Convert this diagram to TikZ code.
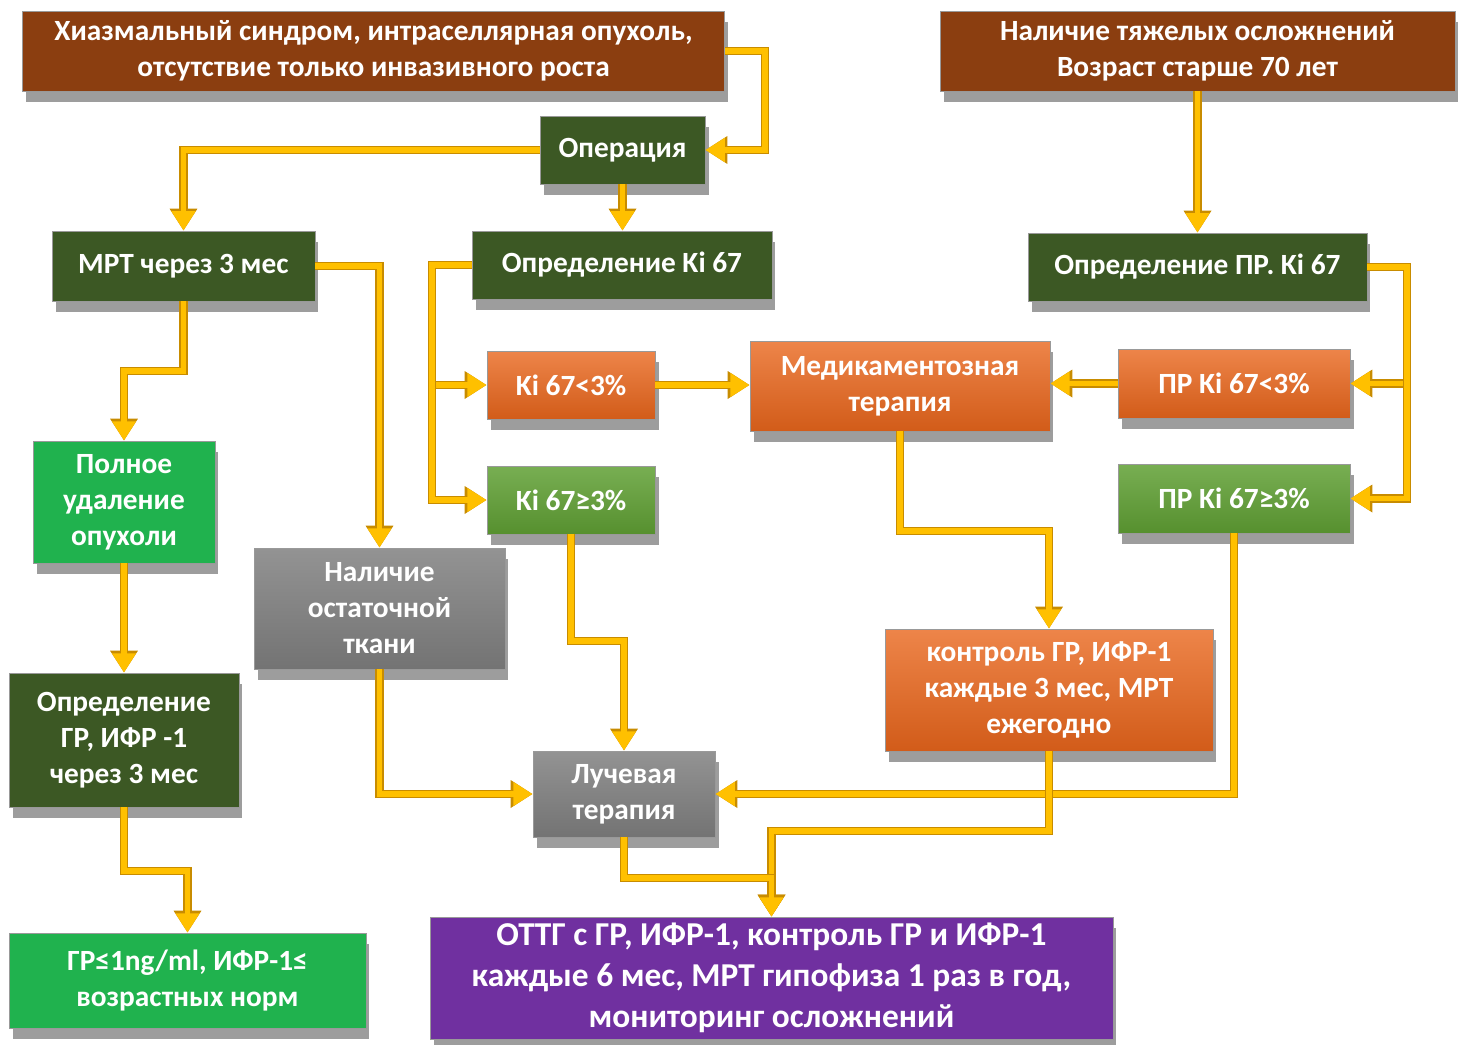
\documentclass[tikz,border=0pt]{standalone}
\usepackage{fontspec}
\setmainfont{Carlito}
\usetikzlibrary{positioning,arrows.meta,shadows}
\definecolor{brownbox}{RGB}{139,62,16}
\definecolor{darkgreen}{RGB}{60,88,36}
\definecolor{orangebox}{RGB}{233,102,28}
\definecolor{midgreen}{RGB}{96,160,52}
\definecolor{lightgreen}{RGB}{32,178,78}
\definecolor{graybox}{RGB}{128,128,128}
\definecolor{purplebox}{RGB}{112,48,160}
\definecolor{arrowgold}{RGB}{255,192,0}
\definecolor{arrowedge}{RGB}{200,140,0}

\begin{document}
\begin{tikzpicture}[x=0.02cm,y=-0.02cm,>={Triangle[width=13pt,length=11pt]},
  box/.style={draw=black!40,line width=0.5pt,text=white,align=center,inner sep=0pt,
    font=\fontsize{16.7}{20.5}\selectfont\bfseries,
    drop shadow={opacity=0.55,fill=black!70,shadow xshift=2pt,shadow yshift=-6pt}},
  brownstep/.style={box,fill=brownbox},
  darkstep/.style={box,fill=darkgreen},
  orangestep/.style={box,top color=orangebox!80!white,bottom color=orangebox!90!black},
  midstep/.style={box,top color=midgreen!85!white,bottom color=midgreen!90!black},
  lightstep/.style={box,fill=lightgreen},
  graystep/.style={box,top color=graybox!85!white,bottom color=graybox!90!black},
  flow/.style={->,draw=arrowgold,line width=3.4pt,
    preaction={draw=arrowedge,line width=4.6pt,-{Triangle[width=15pt,length=12.5pt]}}}]
  \useasboundingbox (0,0) rectangle (1465,1045);

  \node[brownstep,minimum width=14.06cm,minimum height=1.6cm] (start) at (373.5,51)
    {Хиазмальный синдром, интраселлярная опухоль,\\отсутствие только инвазивного роста};
  \node[brownstep,minimum width=10.3cm,minimum height=1.6cm] (risk) at (1197.5,51)
    {Наличие тяжелых осложнений\\Возраст старше 70 лет};
  \node[darkstep,minimum width=3.3cm,minimum height=1.36cm] (oper) at (622.5,150) {Операция};
  \node[darkstep,minimum width=5.26cm,minimum height=1.4cm] (mrt) at (183.5,266) {МРТ через 3 мес};
  \node[darkstep,minimum width=6cm,minimum height=1.36cm] (ki) at (622,265) {Определение Ki 67};
  \node[darkstep,minimum width=6.78cm,minimum height=1.36cm] (prki) at (1197.5,267) {Определение ПР. Ki 67};
  \node[orangestep,minimum width=3.36cm,minimum height=1.36cm] (kilow) at (571,385) {Ki 67<3\%};
  \node[orangestep,minimum width=6cm,minimum height=1.8cm] (drug) at (900,386) {Медикаментозная\\терапия};
  \node[orangestep,minimum width=4.64cm,minimum height=1.38cm] (prlow) at (1234,383.5) {ПР Ki 67<3\%};
  \node[midstep,minimum width=3.36cm,minimum height=1.36cm] (kihigh) at (571,500) {Ki 67≥3\%};
  \node[midstep,minimum width=4.64cm,minimum height=1.38cm] (prhigh) at (1234,498.5) {ПР Ki 67≥3\%};
  \node[lightstep,minimum width=3.64cm,minimum height=2.44cm] (full) at (124,502) {Полное\\удаление\\опухоли};
  \node[graystep,minimum width=5.02cm,minimum height=2.42cm] (rest) at (379.5,608.5) {Наличие\\остаточной\\ткани};
  \node[orangestep,minimum width=6.56cm,minimum height=2.44cm] (ctrl) at (1049,690)
    {контроль ГР, ИФР-1\\каждые 3 мес, МРТ\\ежегодно};
  \node[darkstep,minimum width=4.6cm,minimum height=2.68cm] (gh) at (124,740) {Определение\\ГР, ИФР -1\\через 3 мес};
  \node[graystep,minimum width=3.64cm,minimum height=1.72cm] (ray) at (624,794) {Лучевая\\терапия};
  \node[lightstep,minimum width=7.14cm,minimum height=1.9cm] (norm) at (187.5,980.5) {ГР≤1ng/ml, ИФР-1≤\\возрастных норм};
  \node[box,fill=purplebox,minimum width=13.66cm,minimum height=2.44cm,font=\fontsize{19}{23.5}\selectfont\bfseries] (ottg) at (771.5,978)
    {ОТТГ с ГР, ИФР-1, контроль ГР и ИФР-1\\каждые 6 мес, МРТ гипофиза 1 раз в год,\\мониторинг осложнений};

  \draw[flow] (start.east) -- ++(40,0) |- (oper.east);
  \draw[flow] (oper.west) -| (mrt.north);
  \draw[flow] (oper.south) -- (oper.south |- ki.north);
  \draw[flow] (risk.south) -- (prki.north);
  \draw[flow] (mrt.east) -| (rest.north);
  \draw[flow] (mrt.south) -- ++(0,70) -| (full.north);
  \draw[flow] (ki.west) -- ++(-40,0) |- (kilow.west);
  \draw[flow] (ki.west) -- ++(-40,0) |- (kihigh.west);
  \draw[flow] (kilow.east) -- (kilow.east -| drug.west);
  \draw[flow] (prki.east) -- ++(40,0) |- (prlow.east);
  \draw[flow] (prki.east) -- ++(40,0) |- (prhigh.east);
  \draw[flow] (prlow.west) -- (prlow.west -| drug.east);
  \draw[flow] (drug.south) -- ++(0,100) -| (ctrl.north);
  \draw[flow] (full.south) -- (gh.north);
  \draw[flow] (gh.south) -- ++(0,64) -| (norm.north);
  \draw[flow] (kihigh.south) -- ++(0,107) -| (ray.north);
  \draw[flow] (rest.south) |- (ray.west);
  \draw[flow] (prhigh.south) |- (ray.east);
  \draw[flow] (ctrl.south) -- ++(0,80) -| (ottg.north);
  \draw[flow] (ray.south) -- ++(0,41) -| (ottg.north);
\end{tikzpicture}
\end{document}
